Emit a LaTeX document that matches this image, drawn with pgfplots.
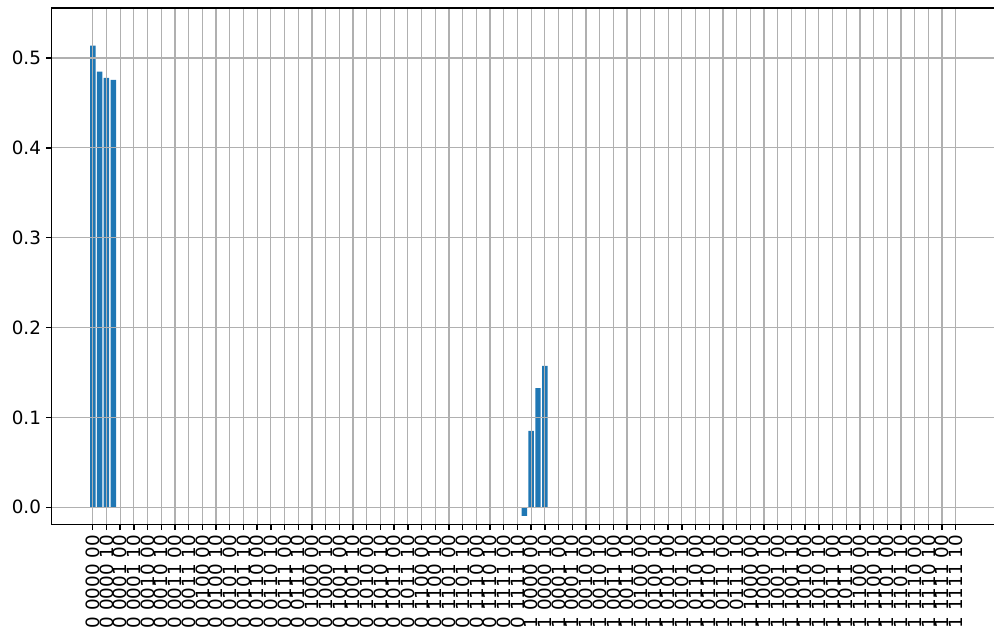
\documentclass[border=0pt]{standalone}
\usepackage{pgfplots}
\pgfplotsset{compat=1.18}
\usepackage{fontspec}
\setmainfont{DejaVu Sans}
\definecolor{barc}{HTML}{1F77B4}
\definecolor{gridc}{HTML}{B0B0B0}
\begin{document}
\begin{tikzpicture}
\begin{axis}[name=ax, scale only axis, width=680.6pt, height=371.7pt,
  xmin=-6, xmax=132, ymin=-0.0189, ymax=0.5557,
  xtick={0,2,...,126},
  xticklabels={
  {0 0000 00},{0 0000 10},{0 0001 00},{0 0001 10},{0 0010 00},{0 0010 10},{0 0011 00},{0 0011 10},
  {0 0100 00},{0 0100 10},{0 0101 00},{0 0101 10},{0 0110 00},{0 0110 10},{0 0111 00},{0 0111 10},
  {0 1000 00},{0 1000 10},{0 1001 00},{0 1001 10},{0 1010 00},{0 1010 10},{0 1011 00},{0 1011 10},
  {0 1100 00},{0 1100 10},{0 1101 00},{0 1101 10},{0 1110 00},{0 1110 10},{0 1111 00},{0 1111 10},
  {1 0000 00},{1 0000 10},{1 0001 00},{1 0001 10},{1 0010 00},{1 0010 10},{1 0011 00},{1 0011 10},
  {1 0100 00},{1 0100 10},{1 0101 00},{1 0101 10},{1 0110 00},{1 0110 10},{1 0111 00},{1 0111 10},
  {1 1000 00},{1 1000 10},{1 1001 00},{1 1001 10},{1 1010 00},{1 1010 10},{1 1011 00},{1 1011 10},
  {1 1100 00},{1 1100 10},{1 1101 00},{1 1101 10},{1 1110 00},{1 1110 10},{1 1111 00},{1 1111 10}},
  ytick={0,0.1,0.2,0.3,0.4,0.5},
  yticklabel style={/pgf/number format/.cd, fixed, fixed zerofill, precision=1},
  /pgf/number format/assume math mode=true,
  ticklabel style={font=\fontsize{13.2}{15}\selectfont},
  x tick label style={rotate=90, anchor=east},
  grid=major, major grid style={gridc, line width=0.9pt},
  axis on top, tick align=outside, tick pos=left, major tick length=4.2pt,
  axis line style={line width=0.97pt},
  every tick/.style={black, line width=0.97pt},
]
\addplot[ybar, bar width=0.8, fill=barc, draw=none] coordinates {
  (0,0.5137) (1,0.4848) (2,0.4780) (3,0.4758)
  (63,-0.0097) (64,0.0850) (65,0.1325) (66,0.1573)
};
\end{axis}
\pgfresetboundingbox
\path[use as bounding box] ([shift={(-37.2pt,-76.1pt)}]ax.south west) rectangle ([shift={(678.5pt,5.76pt)}]ax.north west);
\end{tikzpicture}
\end{document}
